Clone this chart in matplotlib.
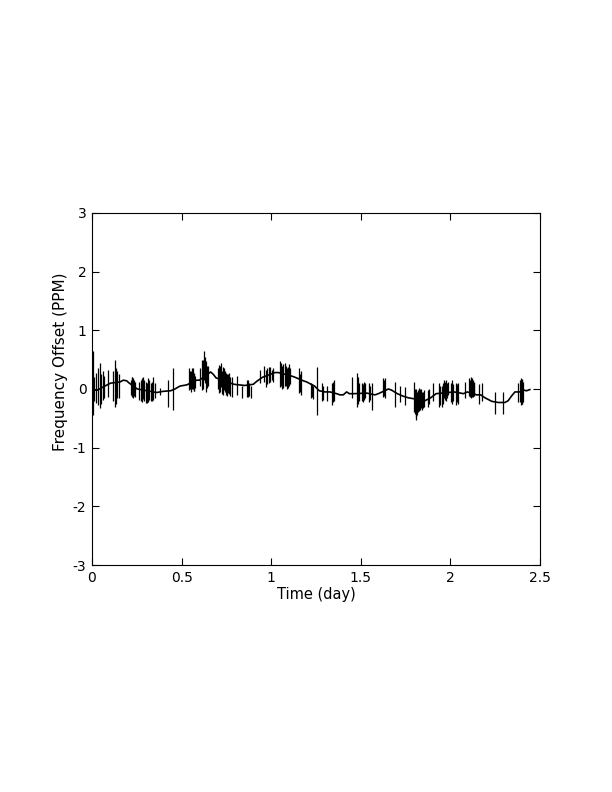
import numpy as np
import matplotlib
matplotlib.use("Agg")
import matplotlib.pyplot as plt

plt.rcParams['font.family'] = ['DejaVu Sans']
plt.rcParams['axes.unicode_minus'] = False

# slow-moving part of the trace (day, ppm)
base_t = [0.0, 0.01, 0.03, 0.072, 0.104, 0.156, 0.175, 0.193, 0.208, 0.253,
          0.361, 0.398, 0.439, 0.463, 0.491, 0.510, 0.529, 0.584, 0.599, 0.662,
          0.677, 0.692, 0.792, 0.822, 0.852, 0.900, 0.919, 0.952, 1.021, 1.040,
          1.114, 1.133, 1.179, 1.198, 1.242, 1.268, 1.300, 1.328, 1.365, 1.384,
          1.402, 1.421, 1.436, 1.462, 1.533, 1.579, 1.598, 1.654, 1.672, 1.704,
          1.734, 1.765, 1.784, 1.858, 1.890, 1.920, 2.020, 2.057, 2.072, 2.094,
          2.146, 2.169, 2.193, 2.212, 2.230, 2.267, 2.280, 2.304, 2.322, 2.341,
          2.360, 2.388, 2.410, 2.425, 2.443]
base_v = [0.0, -0.02, -0.02, 0.05, 0.10, 0.12, 0.15, 0.14, 0.10, 0.0,
          -0.06, -0.04, -0.03, 0.0, 0.05, 0.06, 0.07, 0.15, 0.15, 0.29,
          0.25, 0.19, 0.08, 0.07, 0.06, 0.08, 0.13, 0.20, 0.28, 0.28,
          0.22, 0.20, 0.14, 0.12, 0.05, -0.03, -0.05, -0.05, -0.08, -0.10,
          -0.10, -0.05, -0.08, -0.08, -0.07, -0.10, -0.08, 0.0, -0.02, -0.08,
          -0.12, -0.15, -0.16, -0.20, -0.15, -0.08, -0.05, -0.07, -0.08, -0.05,
          -0.10, -0.10, -0.15, -0.18, -0.21, -0.23, -0.23, -0.23, -0.20, -0.12,
          -0.05, -0.05, -0.02, -0.03, -0.01]

# short excursions: time, top, bottom
spike_t = [0.004, 0.022, 0.045, 0.060, 0.091, 0.128, 0.141, 0.221, 0.230, 0.240,
           0.272, 0.286, 0.301, 0.314, 0.327, 0.342, 0.380, 0.426, 0.450,
           0.543, 0.553, 0.562, 0.571, 0.614, 0.625, 0.636, 0.647, 0.711, 0.722,
           0.733, 0.744, 0.755, 0.766, 0.780, 0.808, 0.837, 0.871, 0.886, 0.937,
           0.971, 0.986, 1.003, 1.049, 1.062, 1.075, 1.086, 1.100, 1.155, 1.166,
           1.220, 1.231, 1.253, 1.283, 1.313, 1.339, 1.350, 1.451, 1.477, 1.488,
           1.505, 1.518, 1.546, 1.561, 1.622, 1.635, 1.691, 1.719, 1.746, 1.797,
           1.806, 1.815, 1.830, 1.845, 1.877, 1.905, 1.938, 1.951, 1.964, 1.975,
           1.989, 2.007, 2.031, 2.044, 2.081, 2.105, 2.115, 2.124, 2.134, 2.158,
           2.178, 2.249, 2.291, 2.375, 2.394, 2.401]
spike_hi = [0.65, 0.27, 0.44, 0.30, 0.32, 0.49, 0.30, 0.20, 0.18, 0.12,
            0.15, 0.20, 0.12, 0.18, 0.10, 0.20, 0.02, 0.15, 0.36,
            0.35, 0.30, 0.35, 0.25, 0.49, 0.64, 0.47, 0.40, 0.41, 0.44,
            0.38, 0.30, 0.25, 0.28, 0.20, 0.22, 0.05, 0.15, 0.05, 0.32,
            0.33, 0.37, 0.32, 0.47, 0.40, 0.45, 0.35, 0.42, 0.35, 0.30,
            0.10, 0.05, 0.37, 0.10, 0.05, 0.10, 0.15, 0.20, 0.27, 0.10,
            0.10, 0.12, 0.10, 0.10, 0.19, 0.18, 0.12, 0.05, 0.04, 0.12,
            0.0, -0.05, 0.0, -0.05, -0.02, 0.10, 0.10, 0.05, 0.15, 0.15,
            0.12, 0.15, 0.10, 0.10, 0.12, 0.18, 0.20, 0.15, 0.10, 0.08,
            0.10, -0.05, -0.05, 0.10, 0.19, 0.15]
spike_lo = [-0.45, -0.24, -0.33, -0.19, -0.13, -0.30, -0.16, -0.12, -0.15, -0.14,
            -0.20, -0.17, -0.24, -0.22, -0.20, -0.18, -0.10, -0.30, -0.36,
            -0.02, -0.05, 0.0, -0.03, -0.02, 0.15, -0.05, 0.05, -0.07, 0.04,
            -0.10, -0.05, -0.12, -0.08, -0.13, -0.10, -0.15, -0.13, -0.16, 0.10,
            0.03, 0.10, 0.15, 0.04, 0.0, 0.05, 0.0, 0.05, -0.07, -0.10,
            -0.15, -0.17, -0.44, -0.20, -0.20, -0.28, -0.20, -0.16, -0.30, -0.20,
            -0.20, -0.18, -0.22, -0.36, -0.13, -0.15, -0.30, -0.22, -0.27, -0.40,
            -0.53, -0.45, -0.35, -0.33, -0.30, -0.20, -0.30, -0.30, -0.15, -0.20,
            -0.10, -0.25, -0.27, -0.25, -0.16, -0.12, -0.15, -0.13, -0.10, -0.25,
            -0.20, -0.42, -0.42, -0.22, -0.27, -0.25]

# smaller excursions inside the busy stretches
burst_t = [0.014, 0.035, 0.052, 0.067, 0.118, 0.134, 0.148, 0.215, 0.226, 0.235,
           0.265, 0.279, 0.293, 0.308, 0.320, 0.335, 0.350, 0.548, 0.558, 0.567,
           0.577, 0.605, 0.620, 0.631, 0.641, 0.705, 0.716, 0.727, 0.738, 0.750,
           0.761, 0.772, 0.866, 0.876, 0.960, 0.978, 0.994, 1.012, 1.055, 1.068,
           1.081, 1.093, 1.105, 1.160, 1.226, 1.289, 1.344, 1.483, 1.511, 1.526,
           1.551, 1.628, 1.801, 1.810, 1.820, 1.825, 1.835, 1.840, 1.850, 1.883,
           1.944, 1.958, 1.970, 1.982, 2.002, 2.013, 2.038, 2.110, 2.120, 2.129,
           2.388, 2.397, 2.405]
burst_hi = [0.20, 0.35, 0.25, 0.22, 0.30, 0.35, 0.25, 0.15, 0.20, 0.15,
            0.12, 0.18, 0.15, 0.10, 0.15, 0.12, 0.10, 0.30, 0.35, 0.28,
            0.22, 0.35, 0.50, 0.55, 0.40, 0.35, 0.40, 0.30, 0.35, 0.28,
            0.25, 0.20, 0.15, 0.10, 0.40, 0.35, 0.38, 0.35, 0.45, 0.42,
            0.40, 0.38, 0.35, 0.25, 0.08, 0.05, 0.12, 0.20, 0.08, 0.10,
            0.05, 0.15, 0.0, -0.05, -0.02, 0.02, 0.0, -0.05, -0.02, 0.0,
            0.05, 0.10, 0.12, 0.10, 0.10, 0.08, 0.08, 0.15, 0.18, 0.12,
            0.15, 0.17, 0.12]
burst_lo = [-0.20, -0.28, -0.25, -0.15, -0.20, -0.25, -0.15, -0.10, -0.14, -0.12,
            -0.18, -0.22, -0.20, -0.24, -0.18, -0.20, -0.15, 0.0, 0.0, -0.03,
            0.02, 0.05, 0.0, 0.10, 0.02, 0.0, -0.05, -0.08, -0.02, -0.10,
            -0.06, -0.12, -0.13, -0.12, 0.12, 0.08, 0.12, 0.12, 0.05, 0.02,
            0.05, 0.02, 0.08, -0.05, -0.14, -0.18, -0.22, -0.25, -0.22, -0.16,
            -0.18, -0.12, -0.42, -0.48, -0.40, -0.38, -0.33, -0.36, -0.30, -0.26,
            -0.28, -0.25, -0.18, -0.16, -0.22, -0.20, -0.22, -0.14, -0.14, -0.12,
            -0.22, -0.25, -0.22]

fig = plt.figure(figsize=(6.12, 7.92), dpi=100)
ax = fig.add_axes([0.1503, 0.2866, 0.7321, 0.4445])
ax.plot(base_t, base_v, color='black', linewidth=1.2)
ax.vlines(spike_t, spike_lo, spike_hi, color='black', linewidth=0.9)
ax.vlines(burst_t, burst_lo, burst_hi, color='black', linewidth=0.9)

ax.set_xlim(0, 2.5)
ax.set_ylim(-3, 3)
ax.set_xticks([0, 0.5, 1, 1.5, 2, 2.5])
ax.set_xticklabels(['0', '0.5', '1', '1.5', '2', '2.5'])
ax.set_yticks([-3, -2, -1, 0, 1, 2, 3])
ax.tick_params(direction='in', top=True, right=True, labelsize=10, length=5, width=0.8, pad=4)
for s in ax.spines.values():
    s.set_linewidth(0.8)
ax.set_xlabel('Time (day)', fontsize=10.5, labelpad=2)
ax.set_ylabel('Frequency Offset (PPM)', fontsize=11)
ax.yaxis.set_label_coords(-0.054, 0.577)

fig.savefig('out.png', dpi=100)
